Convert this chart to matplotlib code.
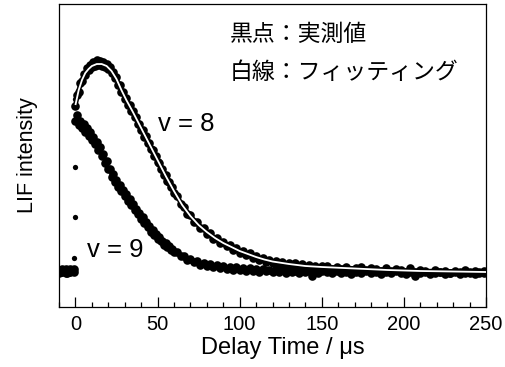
import numpy as np
import matplotlib
matplotlib.use("Agg")
import matplotlib.pyplot as plt
from matplotlib.ticker import MultipleLocator

plt.rcParams['font.family'] = ['Liberation Sans', 'DejaVu Sans']

# time grids (us)
t_pre = np.arange(-10, 0, 1.0)
t_data = np.concatenate([np.arange(0, 61, 1.0), np.arange(62, 151, 2.0), np.arange(153, 250, 3.0)])

# LIF intensity, arbitrary units (baseline = 0)
pre_v8 = [1, -1, 2, 0, -2, 1, -1, 2, 0, -1]
pre_v9 = [-2, 1, -1, 0, 2, -2, 0, -1, 1, 2]

# rise points just before t = 0
rise_t = [-0.6, -0.5, -0.4, -0.3]
rise_i = [13, 54, 104, 172]

v8 = [165, 176, 179, 188, 190, 197, 196, 203, 201, 206,
      204, 209, 205, 211, 206, 210, 205, 209, 204, 207,
      202, 204, 198, 199, 193, 194, 186, 186, 179, 179,
      172, 173, 166, 166, 160, 160, 154, 154, 147, 147,
      141, 141, 134, 135, 128, 128, 122, 121, 115, 115,
      109, 108, 102, 102, 96, 96, 90, 89, 84, 84, 78,
      75, 67, 64, 57, 56, 49, 49, 43, 43, 37,
      38, 32, 33, 28, 29, 25, 26, 21, 23, 18,
      20, 16, 18, 13, 15, 11, 13, 9, 11, 8,
      10, 7, 9, 6, 8, 5, 8, 4, 7, 3,
      6, -1, 5, 3, 5,
      5, 2, 4, 2, 4, 1, 3, 4, 1, 3,
      2, 0, 3, 0, 2, 1, -1, 3, -1, 1,
      0, -2, 1, -1, 0, -2, 0, -1, 1, -2,
      0, -1, 0]

v9 = [150, 156, 146, 150, 143, 147, 139, 143, 135, 139,
      131, 134, 127, 129, 121, 124, 115, 117, 108, 110,
      102, 102, 94, 97, 89, 91, 84, 86, 80, 81,
      75, 77, 70, 72, 66, 67, 61, 62, 57, 58,
      52, 54, 48, 49, 44, 45, 39, 41, 36, 37,
      32, 34, 30, 30, 26, 28, 24, 25, 21, 22, 19,
      19, 15, 15, 11, 12, 9, 10, 6, 8, 5,
      7, 4, 6, 3, 5, 2, 4, 1, 4, 1,
      3, 0, 3, 0, 2, -1, 2, 0, 1, -1,
      2, -1, 1, -2, 1, -1, 0, -2, 1, -1,
      0, -5, 0, -2, 0,
      -1, -2, 0, -2, -1, -3, -1, -2, 0, -2,
      -1, -3, -1, -2, 0, -2, -3, -1, -5, -2,
      -1, -3, -2, -1, -3, -2, -1, -3, -2, -1,
      -3, -2, -2]

# fitted curve for v = 8
fit_t = [0, 2, 4, 6, 8, 10, 13, 16, 19, 22, 25, 28, 31, 35, 40, 45, 50, 55, 60,
         65, 70, 75, 80, 85, 90, 95, 100, 105, 110, 115, 120, 130, 140, 150,
         170, 190, 210, 230, 250]
fit_v8 = [166, 181, 191, 198, 202, 205, 207, 207, 205, 200, 192, 181, 171, 159,
          143, 127, 111, 95, 80, 66, 55, 46, 39, 33, 28, 24, 20, 17, 14, 11.5,
          9.5, 7, 5, 4, 2.5, 1, 0, -0.5, -1]

fig = plt.figure(figsize=(5.06, 3.67), dpi=100)
ax = fig.add_axes([0.1166, 0.1635, 0.8439, 0.8255])

ms = 6.2
for tt, yy in [(t_pre, pre_v8), (t_pre, pre_v9), (t_data, v8), (t_data, v9)]:
    ax.plot(tt, yy, 'o', color='black', ms=ms, mew=0, zorder=2)
ax.plot(rise_t, rise_i, 'o', color='black', ms=3.8, mew=0, zorder=2)

ax.plot(fit_t, fit_v8, '-', color='black', lw=3.4, zorder=3, solid_capstyle='butt')
ax.plot(fit_t, fit_v8, '-', color='white', lw=1.3, zorder=4, solid_capstyle='butt')

ax.text(50, 147, 'v = 8', fontsize=18.5, ha='left', va='center')
ax.text(7.3, 21, 'v = 9', fontsize=18.5, ha='left', va='center')
jp = ['Noto Sans CJK JP', 'DejaVu Sans']
ax.text(94, 237, '黒点：実測値', fontsize=16.5, family=jp, ha='left', va='center')
ax.text(94, 199, '白線：フィッティング', fontsize=16.5, family=jp, ha='left', va='center')

ax.set_xlim(-10, 250)
ax.set_ylim(-36, 267)
ax.xaxis.set_major_locator(MultipleLocator(50))
ax.xaxis.set_minor_locator(MultipleLocator(10))
ax.tick_params(axis='x', which='major', direction='in', length=7, width=0.9,
               labelsize=14.5, pad=6)
ax.tick_params(axis='x', which='minor', direction='in', length=3.5, width=0.9)
ax.set_yticks([])
for s in ax.spines.values():
    s.set_linewidth(0.9)

ax.set_xlabel('Delay Time / μs', fontsize=17, labelpad=2, x=0.523)
ax.set_ylabel('LIF intensity', fontsize=15.5, labelpad=15)

fig.savefig('out.png', dpi=100)
